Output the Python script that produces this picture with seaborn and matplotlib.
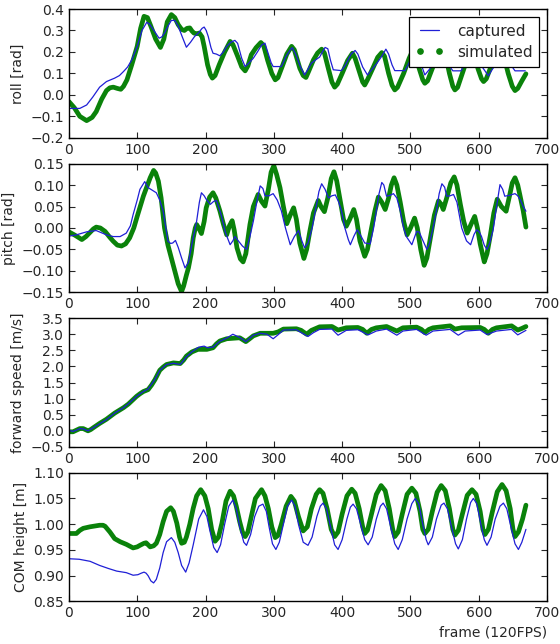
import numpy as np
import pandas as pd
import matplotlib
matplotlib.use("Agg")
import matplotlib.pyplot as plt
from matplotlib.lines import Line2D
import seaborn as sns

# =========================
# DATA (frame, value)
# =========================

roll_cap_f = [0, 16, 26, 35, 45, 55, 67, 74, 80, 86, 92, 100, 107, 114, 118, 123, 132, 136, 140, 145,
              150, 155, 160, 166, 172, 178, 184, 190, 195, 198, 201, 204, 208, 211, 216, 221, 226, 231,
              237, 243, 247, 253, 258, 264, 270, 276, 282, 287, 291, 296, 299, 311, 318, 324, 327, 332,
              339, 345, 350, 355, 362, 367, 372, 375, 379, 383, 387, 399, 405, 413, 419, 423, 430, 437,
              444, 451, 458, 464, 468, 473, 477, 492, 498, 504, 508, 512, 517, 521, 528, 536, 544, 549,
              553, 558, 562, 574, 580, 588, 594, 598, 605, 614, 620, 627, 634, 640, 644, 649, 653, 668]
roll_cap_v = [-0.063, -0.063, -0.047, -0.01, 0.036, 0.062, 0.078, 0.09, 0.109, 0.13, 0.163, 0.226, 0.3,
              0.338, 0.33, 0.307, 0.264, 0.27, 0.288, 0.32, 0.347, 0.347, 0.32, 0.27, 0.222, 0.245, 0.272,
              0.29, 0.31, 0.316, 0.3, 0.272, 0.22, 0.194, 0.19, 0.182, 0.2, 0.226, 0.245, 0.254, 0.24,
              0.17, 0.132, 0.15, 0.171, 0.2, 0.232, 0.241, 0.2, 0.15, 0.132, 0.132, 0.18, 0.21, 0.22, 0.19,
              0.13, 0.093, 0.12, 0.148, 0.165, 0.176, 0.205, 0.221, 0.215, 0.16, 0.117, 0.113, 0.14, 0.19,
              0.207, 0.19, 0.13, 0.093, 0.12, 0.148, 0.18, 0.213, 0.19, 0.14, 0.113, 0.113, 0.15, 0.2,
              0.215, 0.19, 0.13, 0.093, 0.12, 0.15, 0.2, 0.215, 0.19, 0.13, 0.112, 0.112, 0.15, 0.2, 0.215,
              0.19, 0.13, 0.089, 0.12, 0.15, 0.2, 0.215, 0.19, 0.13, 0.112, 0.112]

roll_sim_f = [0, 8, 16, 26, 34, 40, 48, 55, 60, 65, 71, 76, 80, 85, 92, 100, 105, 110, 115, 120, 127,
              134, 139, 144, 150, 155, 160, 165, 169, 173, 177, 180, 183, 187, 191, 195, 198, 203, 207,
              210, 214, 220, 228, 236, 240, 247, 253, 258, 262, 267, 274, 281, 285, 291, 297, 302, 306,
              312, 319, 326, 330, 338, 343, 347, 351, 358, 364, 370, 374, 380, 385, 389, 393, 400, 408,
              415, 419, 425, 430, 433, 437, 446, 452, 458, 462, 468, 473, 477, 481, 490, 498, 503, 507,
              513, 518, 521, 525, 534, 542, 547, 551, 557, 562, 565, 569, 578, 585, 589, 593, 599, 604,
              607, 611, 620, 628, 632, 636, 643, 649, 653, 657, 663, 669]
roll_sim_v = [-0.031, -0.06, -0.1, -0.12, -0.105, -0.078, -0.02, 0.02, 0.033, 0.036, 0.03, 0.026, 0.04,
              0.07, 0.14, 0.226, 0.31, 0.366, 0.36, 0.32, 0.26, 0.221, 0.26, 0.34, 0.374, 0.36, 0.327,
              0.305, 0.3, 0.31, 0.312, 0.298, 0.288, 0.285, 0.288, 0.27, 0.226, 0.14, 0.095, 0.078, 0.09,
              0.14, 0.2, 0.249, 0.235, 0.18, 0.13, 0.112, 0.135, 0.187, 0.22, 0.244, 0.23, 0.16, 0.1, 0.07,
              0.08, 0.13, 0.19, 0.226, 0.21, 0.124, 0.09, 0.081, 0.11, 0.163, 0.195, 0.213, 0.195, 0.12,
              0.06, 0.036, 0.05, 0.1, 0.16, 0.194, 0.17, 0.11, 0.06, 0.046, 0.07, 0.132, 0.175, 0.197,
              0.18, 0.1, 0.045, 0.023, 0.035, 0.1, 0.17, 0.205, 0.19, 0.12, 0.07, 0.054, 0.065, 0.14, 0.2,
              0.215, 0.19, 0.1, 0.04, 0.023, 0.035, 0.12, 0.19, 0.21, 0.19, 0.12, 0.075, 0.062, 0.075,
              0.15, 0.2, 0.215, 0.19, 0.1, 0.04, 0.02, 0.03, 0.065, 0.098]

pitch_cap_f = [0, 11, 26, 40, 55, 65, 75, 84, 90, 94, 100, 104, 111, 116, 122, 128, 133, 138, 142, 145,
               149, 152, 156, 160, 165, 170, 175, 181, 187, 191, 194, 198, 201, 207, 212, 216, 220, 223,
               229, 236, 240, 243, 248, 254, 260, 265, 270, 275, 280, 284, 287, 293, 299, 305, 311, 317,
               324, 330, 336, 341, 345, 350, 356, 362, 366, 370, 375, 380, 385, 390, 395, 399, 404, 409,
               412, 417, 422, 428, 433, 441, 446, 450, 454, 458, 461, 465, 470, 475, 480, 485, 490, 494,
               502, 509, 513, 517, 524, 528, 533, 538, 542, 546, 550, 553, 558, 563, 568, 575, 582, 588,
               593, 597, 601, 604, 608, 612, 616, 621, 626, 631, 635, 638, 645, 653, 657, 661, 665, 669]
pitch_cap_v = [-0.019, -0.016, -0.009, -0.006, -0.016, -0.02, -0.02, -0.012, 0.005, 0.031, 0.065, 0.09,
               0.108, 0.094, 0.088, 0.082, 0.065, 0.039, 0.0, -0.031, -0.036, -0.035, -0.029, -0.045,
               -0.07, -0.093, -0.08, -0.03, 0.016, 0.06, 0.082, 0.075, 0.067, 0.055, 0.062, 0.064, 0.045,
               0.03, -0.01, -0.039, -0.03, -0.02, -0.03, -0.042, -0.05, -0.02, 0.016, 0.06, 0.098, 0.092,
               0.075, 0.075, 0.08, 0.065, 0.04, 0.0, -0.039, -0.02, -0.006, -0.03, -0.046, -0.035, 0.0,
               0.05, 0.085, 0.103, 0.09, 0.07, 0.075, 0.077, 0.06, 0.04, 0.0, -0.027, -0.039, -0.02,
               -0.004, -0.02, -0.035, -0.037, 0.0, 0.04, 0.08, 0.106, 0.1, 0.074, 0.076, 0.08, 0.07, 0.04,
               0.0, -0.02, -0.039, -0.008, -0.01, -0.025, -0.05, -0.035, 0.0, 0.04, 0.08, 0.103, 0.095,
               0.074, 0.075, 0.078, 0.06, 0.0, -0.03, -0.039, -0.015, -0.004, -0.01, -0.02, -0.04, -0.05,
               -0.035, -0.004, 0.05, 0.101, 0.09, 0.074, 0.076, 0.08, 0.075, 0.065, 0.05, 0.039]

pitch_sim_f = [0, 9, 19, 25, 31, 36, 40, 46, 53, 60, 65, 71, 77, 83, 89, 95, 100, 109, 115, 119, 124,
               127, 131, 135, 140, 145, 150, 155, 160, 165, 168, 172, 175, 179, 182, 185, 187, 190, 194,
               198, 201, 206, 211, 215, 221, 226, 231, 235, 239, 242, 246, 251, 255, 259, 265, 270, 277,
               282, 287, 292, 296, 300, 304, 309, 314, 319, 324, 329, 333, 338, 344, 348, 353, 358, 365,
               369, 374, 379, 384, 388, 392, 397, 402, 406, 411, 417, 421, 426, 433, 437, 443, 448, 453,
               458, 463, 468, 472, 476, 480, 485, 490, 495, 500, 506, 510, 515, 520, 524, 529, 535, 541,
               545, 548, 553, 559, 564, 568, 573, 578, 583, 589, 594, 598, 602, 608, 612, 617, 622, 627,
               633, 640, 645, 649, 653, 657, 660, 665, 669]
pitch_sim_v = [-0.009, -0.017, -0.027, -0.02, -0.01, -0.002, 0.002, 0.0, -0.008, -0.022, -0.031, -0.04,
               -0.042, -0.037, -0.023, 0.0, 0.027, 0.074, 0.1, 0.117, 0.134, 0.128, 0.109, 0.07, 0.0,
               -0.04, -0.07, -0.1, -0.13, -0.148, -0.135, -0.11, -0.093, -0.06, -0.023, 0.0, 0.008, 0.0,
               -0.013, 0.015, 0.047, 0.072, 0.082, 0.07, 0.04, 0.01, -0.016, 0.005, 0.017, -0.005, -0.046,
               -0.072, -0.079, -0.06, 0.008, 0.05, 0.078, 0.062, 0.051, 0.09, 0.13, 0.145, 0.125, 0.094,
               0.05, 0.01, 0.03, 0.047, 0.02, -0.035, -0.071, -0.05, -0.005, 0.035, 0.064, 0.05, 0.038,
               0.07, 0.115, 0.131, 0.11, 0.065, 0.02, 0.004, 0.02, 0.043, 0.02, -0.03, -0.066, -0.05, 0.0,
               0.04, 0.072, 0.06, 0.043, 0.07, 0.1, 0.117, 0.1, 0.06, 0.015, -0.016, 0.0, 0.023, 0.0,
               -0.05, -0.087, -0.07, -0.025, 0.03, 0.063, 0.055, 0.043, 0.07, 0.105, 0.119, 0.1, 0.055,
               0.015, -0.012, 0.01, 0.027, 0.0, -0.037, -0.079, -0.06, -0.016, 0.035, 0.067, 0.05, 0.039,
               0.075, 0.105, 0.117, 0.1, 0.078, 0.04, 0.002]

speed_cap_f = [0, 6, 12, 16, 21, 28, 36, 45, 55, 67, 80, 87, 99, 109, 116, 126, 133, 143, 153, 163, 172,
               180, 190, 198, 203, 211, 221, 231, 240, 250, 259, 270, 280, 290, 299, 306, 314, 333, 340,
               350, 358, 367, 385, 394, 406, 423, 438, 450, 465, 480, 489, 509, 523, 533, 558, 570, 580,
               602, 612, 626, 648, 657, 669]
speed_cap_v = [0.02, -0.02, 0.03, 0.07, 0.06, 0.0, 0.1, 0.22, 0.35, 0.55, 0.72, 0.84, 1.07, 1.22, 1.3,
               1.6, 1.88, 2.06, 2.1, 2.06, 2.3, 2.45, 2.6, 2.63, 2.58, 2.6, 2.78, 2.88, 3.0, 2.9, 2.77,
               2.97, 3.03, 3.0, 2.86, 2.98, 3.13, 3.14, 3.05, 2.93, 3.05, 3.15, 3.16, 2.97, 3.12, 3.14,
               2.98, 3.1, 3.16, 2.97, 3.1, 3.15, 2.97, 3.1, 3.15, 2.97, 3.1, 3.13, 2.99, 3.1, 3.15, 2.98,
               3.12]

speed_sim_f = [0, 6, 12, 16, 21, 28, 32, 36, 45, 55, 67, 80, 87, 93, 99, 104, 109, 116, 121, 126, 133,
               138, 143, 153, 163, 168, 172, 180, 189, 202, 211, 216, 221, 231, 250, 259, 264, 270, 280,
               299, 306, 314, 333, 340, 348, 355, 367, 385, 394, 406, 423, 430, 436, 443, 450, 465, 480,
               489, 509, 516, 521, 527, 533, 558, 565, 575, 602, 608, 614, 620, 626, 648, 657, 663, 669]
speed_sim_v = [-0.03, -0.03, 0.03, 0.07, 0.07, 0.0, 0.04, 0.1, 0.23, 0.36, 0.55, 0.72, 0.83, 0.95, 1.07,
               1.15, 1.22, 1.28, 1.42, 1.59, 1.88, 1.98, 2.06, 2.11, 2.09, 2.2, 2.32, 2.45, 2.53, 2.53,
               2.58, 2.7, 2.79, 2.86, 2.89, 2.77, 2.85, 2.95, 3.03, 3.03, 3.07, 3.16, 3.17, 3.12, 3.0,
               3.12, 3.23, 3.24, 3.13, 3.2, 3.21, 3.15, 3.03, 3.15, 3.2, 3.24, 3.1, 3.2, 3.22, 3.15, 3.05,
               3.15, 3.2, 3.26, 3.16, 3.2, 3.21, 3.15, 3.03, 3.15, 3.2, 3.26, 3.13, 3.18, 3.24]

com_cap_f = [0, 15, 31, 45, 58, 70, 84, 94, 101, 106, 110, 113, 116, 120, 124, 128, 133, 138, 143, 150,
             155, 160, 165, 171, 176, 182, 190, 197, 202, 206, 212, 217, 222, 228, 234, 240, 245, 250,
             256, 260, 266, 272, 278, 284, 289, 293, 298, 303, 308, 314, 320, 326, 331, 336, 343, 350,
             356, 363, 368, 372, 377, 383, 389, 394, 400, 407, 412, 416, 421, 427, 433, 438, 444, 450,
             456, 460, 465, 471, 477, 482, 488, 495, 502, 507, 512, 518, 523, 526, 532, 538, 545, 549,
             554, 560, 566, 570, 576, 582, 588, 592, 597, 603, 608, 612, 618, 624, 631, 636, 641, 647,
             653, 658, 663, 669]
com_cap_v = [0.933, 0.932, 0.928, 0.92, 0.914, 0.909, 0.906, 0.901, 0.902, 0.905, 0.907, 0.905, 0.9,
             0.89, 0.886, 0.893, 0.915, 0.945, 0.966, 0.974, 0.965, 0.945, 0.92, 0.907, 0.925, 0.96, 1.01,
             1.028, 1.015, 0.99, 0.955, 0.945, 0.96, 1.0, 1.035, 1.047, 1.03, 0.995, 0.965, 0.959, 0.98,
             1.015, 1.035, 1.039, 1.025, 0.995, 0.962, 0.951, 0.965, 1.0, 1.035, 1.047, 1.035, 1.0,
             0.965, 0.959, 0.975, 1.015, 1.035, 1.041, 1.03, 0.995, 0.96, 0.951, 0.97, 1.01, 1.033,
             1.039, 1.03, 1.0, 0.97, 0.96, 0.975, 1.01, 1.035, 1.041, 1.03, 0.995, 0.962, 0.951, 0.97,
             1.01, 1.04, 1.05, 1.04, 1.0, 0.97, 0.96, 0.975, 1.01, 1.037, 1.041, 1.03, 0.995, 0.962,
             0.952, 0.97, 1.01, 1.042, 1.05, 1.04, 1.0, 0.97, 0.959, 0.975, 1.01, 1.035, 1.041, 1.03,
             0.995, 0.962, 0.951, 0.965, 0.99]

com_sim_f = [0, 11, 16, 21, 31, 45, 50, 53, 60, 67, 75, 84, 94, 100, 104, 110, 113, 116, 119, 124, 128,
             133, 138, 143, 149, 153, 158, 162, 165, 169, 172, 177, 182, 187, 193, 199, 204, 209, 214,
             219, 224, 230, 236, 241, 245, 250, 254, 258, 262, 267, 273, 282, 287, 292, 297, 302, 306,
             311, 318, 325, 330, 336, 343, 349, 355, 362, 367, 372, 378, 384, 389, 394, 400, 407, 414,
             419, 425, 430, 433, 437, 443, 450, 457, 463, 469, 474, 477, 482, 488, 495, 502, 508, 514,
             518, 521, 526, 532, 539, 545, 551, 557, 562, 565, 570, 576, 583, 590, 596, 602, 606, 609,
             614, 620, 627, 634, 640, 646, 650, 653, 658, 664, 669]
com_sim_v = [0.982, 0.982, 0.988, 0.992, 0.995, 0.998, 0.998, 0.996, 0.985, 0.972, 0.966, 0.961, 0.954,
             0.956, 0.959, 0.963, 0.964, 0.96, 0.956, 0.958, 0.963, 0.98, 1.005, 1.025, 1.032, 1.025,
             1.002, 0.975, 0.963, 0.965, 0.975, 1.0, 1.031, 1.055, 1.067, 1.055, 1.03, 0.99, 0.967,
             0.975, 1.002, 1.045, 1.064, 1.055, 1.035, 1.005, 0.985, 0.976, 0.985, 1.015, 1.05, 1.067,
             1.055, 1.03, 0.995, 0.974, 0.978, 1.0, 1.035, 1.054, 1.045, 1.015, 0.987, 0.995, 1.03,
             1.058, 1.067, 1.06, 1.03, 0.99, 0.976, 0.985, 1.02, 1.055, 1.068, 1.06, 1.03, 0.995, 0.982,
             0.988, 1.02, 1.058, 1.075, 1.065, 1.03, 0.99, 0.976, 0.985, 1.02, 1.058, 1.07, 1.06, 1.025,
             0.99, 0.982, 0.99, 1.025, 1.062, 1.075, 1.065, 1.03, 0.99, 0.979, 0.988, 1.02, 1.056, 1.067,
             1.058, 1.025, 0.99, 0.98, 0.99, 1.025, 1.063, 1.077, 1.065, 1.03, 0.99, 0.976, 0.985, 1.01,
             1.037]

panels = [
    ("roll [rad]", roll_cap_f, roll_cap_v, roll_sim_f, roll_sim_v, (-0.2, 0.4), 0.1),
    ("pitch [rad]", pitch_cap_f, pitch_cap_v, pitch_sim_f, pitch_sim_v, (-0.15, 0.15), 0.05),
    ("forward speed [m/s]", speed_cap_f, speed_cap_v, speed_sim_f, speed_sim_v, (-0.5, 3.5), 0.5),
    ("COM height [m]", com_cap_f, com_cap_v, com_sim_f, com_sim_v, (0.85, 1.10), 0.05),
]

# =========================
# STYLE
# =========================

sns.set_style("ticks")
plt.rcParams["font.family"] = ["DejaVu Sans"]
plt.rcParams["font.size"] = 10
plt.rcParams["xtick.direction"] = "in"
plt.rcParams["ytick.direction"] = "in"
plt.rcParams["xtick.top"] = True
plt.rcParams["ytick.right"] = True
plt.rcParams["xtick.major.size"] = 4
plt.rcParams["ytick.major.size"] = 4
plt.rcParams["axes.edgecolor"] = "black"
plt.rcParams["axes.linewidth"] = 1.0

blue = "#1f1fd6"
green = "#0a820a"

# =========================
# PLOT
# =========================

fig, axes = plt.subplots(4, 1, figsize=(5.6, 6.44), dpi=100)
fig.subplots_adjust(left=0.123, right=0.977, top=0.986, bottom=0.066, hspace=0.2)

for ax, (label, cf, cv, sf, sv, ylim, step) in zip(axes, panels):
    cap = pd.DataFrame({"frame": cf, "value": cv})
    sim = pd.DataFrame({"frame": sf, "value": sv})
    sns.lineplot(data=sim, x="frame", y="value", ax=ax, color=green, lw=3.4,
                 estimator=None, sort=False, solid_joinstyle="round", solid_capstyle="round")
    sns.lineplot(data=cap, x="frame", y="value", ax=ax, color=blue, lw=0.9,
                 estimator=None, sort=False)
    ax.set_xlim(0, 700)
    ax.set_ylim(*ylim)
    ax.set_xticks(np.arange(0, 701, 100))
    ax.set_yticks(np.arange(ylim[0], ylim[1] + step / 2, step))
    ax.set_ylabel(label, fontsize=10)
    ax.set_xlabel("")
    ax.tick_params(labelsize=10, width=0.8)

axes[0].set_yticklabels(["\u22120.2", "\u22120.1", "0.0", "0.1", "0.2", "0.3", "0.4"])
axes[1].set_yticklabels(["\u22120.15", "\u22120.10", "\u22120.05", "0.00", "0.05", "0.10", "0.15"])
axes[2].set_yticklabels(["\u22120.5", "0.0", "0.5", "1.0", "1.5", "2.0", "2.5", "3.0", "3.5"])
axes[3].set_yticklabels(["0.85", "0.90", "0.95", "1.00", "1.05", "1.10"])

axes[3].set_xlabel("frame (120FPS)", fontsize=10, loc="right")

handles = [
    Line2D([], [], color=blue, lw=0.9),
    Line2D([], [], color=green, marker="o", ls="none", markersize=3.8),
]
leg = axes[0].legend(handles, ["captured", "simulated"], loc="upper right", numpoints=2,
                     fancybox=False, framealpha=1, edgecolor="black", fontsize=11,
                     handlelength=1.8, handletextpad=0.9, borderaxespad=0.5,
                     borderpad=0.45, labelspacing=0.4)
leg.get_frame().set_linewidth(0.9)

plt.savefig("out.png", dpi=100)
